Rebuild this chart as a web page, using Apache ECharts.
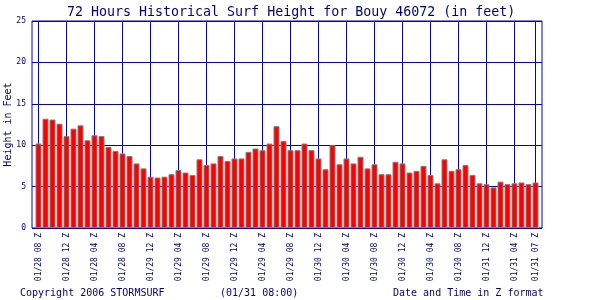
<!DOCTYPE html>
<html>
<head>
<meta charset="utf-8">
<script src="https://cdn.jsdelivr.net/npm/echarts@6/dist/echarts.min.js"></script>
<style>html,body{margin:0;padding:0;background:#fff;}#c{width:600px;height:300px;}</style>
</head>
<body>
<div id="c"></div>
<script>
const titleText = '72 Hours Historical Surf Height for Bouy 46072 (in feet)';
const yAxisName = 'Height in Feet';
const copyrightText = 'Copyright 2006 STORMSURF';
const stampText = '(01/31 08:00)';
const xAxisName = 'Date and Time in Z format';
const yTicks = [0, 5, 10, 15, 20, 25];
// tick labels at every 4th hour (index 0,4,...,68) plus the last hour (index 71)
const tickLabels = ['01/28 08 Z','01/28 12 Z','01/28 04 Z','01/28 08 Z','01/29 12 Z','01/29 04 Z','01/29 08 Z','01/29 12 Z','01/29 04 Z','01/29 08 Z','01/30 12 Z','01/30 04 Z','01/30 08 Z','01/30 12 Z','01/30 04 Z','01/30 08 Z','01/31 12 Z','01/31 04 Z','01/31 07 Z'];
// hourly surf height (ft), 72 hours
const heights = [10.2,13.2,13.1,12.6,11.1,12.0,12.4,10.6,11.2,11.1,
  9.8,9.3,9.0,8.7,7.8,7.2,6.2,6.1,6.2,6.5,
  7.0,6.7,6.4,8.3,7.6,7.8,8.7,8.1,8.4,8.4,
  9.2,9.6,9.4,10.2,12.3,10.5,9.4,9.4,10.2,9.4,
  8.4,7.1,10.0,7.7,8.4,7.8,8.6,7.2,7.7,6.5,
  6.5,8.0,7.8,6.7,6.9,7.5,6.4,5.4,8.3,6.9,
  7.1,7.6,6.4,5.4,5.3,4.9,5.6,5.3,5.4,5.5,
  5.3,5.5];

const FONT = "'DejaVu Sans Mono', monospace";
const NAVY = '#000080';
const BLUE = '#0000cc';
const last = heights.length - 1;
const off = {show: false};

const chart = echarts.init(document.getElementById('c'), null, {renderer: 'canvas'});
chart.setOption({
  animation: false,
  backgroundColor: '#ffffff',
  title: {
    text: titleText, left: 62, top: 1,
    textStyle: {fontFamily: FONT, fontSize: 13.3, fontWeight: 'normal', color: NAVY}
  },
  grid: [
    {left: 32, right: 58, top: 21, bottom: 72, show: true, borderColor: BLUE, borderWidth: 1,
     backgroundColor: 'transparent', outerBoundsMode: 'none'},
    {left: 38.5, right: 64.5, top: 21, bottom: 72, outerBoundsMode: 'none'}
  ],
  xAxis: [
    {type: 'category', gridIndex: 0, data: [''], boundaryGap: true,
     axisLine: {show: false, onZero: false}, axisTick: off, axisLabel: off, splitLine: off, splitArea: off},
    {
      type: 'value', gridIndex: 1, min: 0, max: last, interval: 4,
      axisLine: {show: false, onZero: false}, axisTick: off, splitArea: off,
      splitLine: {show: true, lineStyle: {color: BLUE, width: 1}},
      axisLabel: {
        rotate: 90, margin: 5, fontFamily: FONT, fontSize: 8, color: NAVY,
        showMinLabel: true, showMaxLabel: true, hideOverlap: false,
        formatter: function (v) {
          if (v === last) return tickLabels[tickLabels.length - 1];
          return tickLabels[v / 4] || '';
        }
      }
    }
  ],
  yAxis: [
    {
      type: 'value', gridIndex: 0, min: yTicks[0], max: yTicks[yTicks.length - 1], interval: 5,
      axisLine: {show: false, onZero: false}, axisTick: off, splitArea: off,
      splitLine: {show: true, lineStyle: {color: BLUE, width: 1}},
      axisLabel: {margin: 6, fontFamily: FONT, fontSize: 8, color: NAVY,
        showMinLabel: true, showMaxLabel: true, hideOverlap: false},
      name: yAxisName, nameLocation: 'middle', nameRotate: 90, nameGap: 19,
      nameMoveOverlap: false,
      nameTextStyle: {fontFamily: FONT, fontSize: 10, color: NAVY}
    },
    {type: 'value', gridIndex: 1, min: yTicks[0], max: yTicks[yTicks.length - 1],
     axisLine: {show: false, onZero: false}, axisTick: off, axisLabel: off, splitLine: off, splitArea: off}
  ],
  series: [{
    type: 'bar', xAxisIndex: 1, yAxisIndex: 1, z: 10,
    data: heights.map((h, i) => [i, h]),
    barWidth: 6, clip: false,
    itemStyle: {color: '#ff0000', borderColor: '#808080', borderWidth: 1}
  }],
  graphic: [
    {type: 'text', left: 20, top: 288, style: {text: copyrightText, font: '10px ' + FONT, fill: NAVY}},
    {type: 'text', left: 220, top: 288, style: {text: stampText, font: '10px ' + FONT, fill: NAVY}},
    {type: 'text', left: 393, top: 288, style: {text: xAxisName, font: '10px ' + FONT, fill: NAVY}}
  ]
});
</script>
</body>
</html>
